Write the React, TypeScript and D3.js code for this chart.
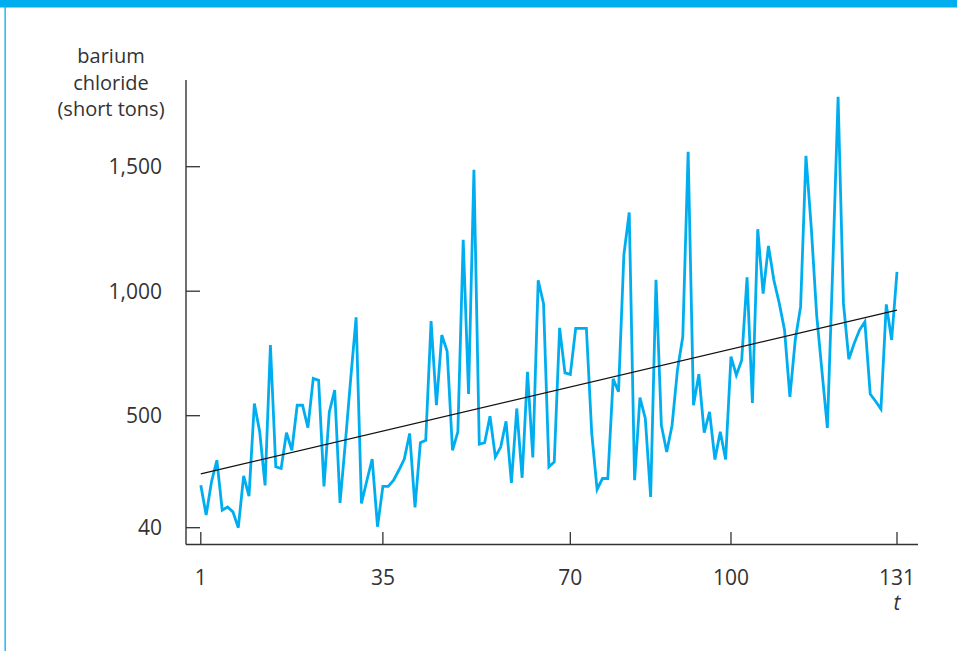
import React from "react";
import * as d3 from "d3";

const values: number[] = [
  214, 92, 229, 317, 112, 125, 105, 40, 253, 170,
  549, 434, 214, 784, 290, 283, 430, 358, 542, 542,
  451, 650, 642, 210, 515, 603, 142, 391, 651, 895,
  140, 233, 322, 44, 210, 210, 235, 277, 322, 427,
  123, 389, 399, 880, 542, 824, 759, 358, 434, 1206,
  587, 1488, 383, 389, 498, 331, 371, 477, 224, 529,
  245, 676, 329, 1044, 950, 290, 310, 853, 672, 666,
  851, 851, 851, 427, 197, 242, 242, 648, 596, 1146,
  1316, 235, 573, 489, 166, 1046, 461, 351, 461, 683,
  817, 1560, 542, 667, 430, 515, 320, 434, 320, 737,
  663, 723, 1056, 551, 1249, 990, 1182, 1045, 953, 844,
  576, 804, 938, 1544, 1253, 904, 676, 450, 1096, 1781,
  951, 727, 790, 844, 877, 587, 558, 527, 947, 804,
  1078,
];
const tValues: number[] = values.map((_, i) => i + 1);
const trendT: number[] = [1, 131];
const trendValues: number[] = [261, 924];
const yTicks: number[] = [40, 500, 1000, 1500];
const yTickLabels: string[] = ["40", "500", "1,000", "1,500"];
const xTicks: number[] = [1, 35, 70, 100, 131];
const yTitle: string[] = ["barium", "chloride", "(short tons)"];
const xTitle = "t";

const BLUE = "#00AEEF";
const INK = "#333333";
const FONT = "'Open Sans', 'Noto Sans', sans-serif";

export default function App() {
  const W = 957;
  const H = 651;
  const axisX = 186;
  const axisY = 544.5;
  const axisTop = 80;
  const axisRight = 918;

  const x = d3.scaleLinear().domain([1, 131]).range([200.8, 897]);
  const y = d3.scaleLinear().domain([40, 500, 1500]).range([527.7, 415.7, 166.7]);

  const line = d3
    .line<number>()
    .x((_, i) => x(tValues[i]))
    .y((d) => y(d));

  const trend = d3
    .line<number>()
    .x((_, i) => x(trendT[i]))
    .y((d) => y(d));

  return (
    <svg
      width={W}
      height={H}
      style={{ position: "absolute", left: 0, top: 0, background: "#fff" }}
      fontFamily={FONT}
    >
      <rect x={0} y={0} width={W} height={7.5} fill={BLUE} />
      <rect x={4.5} y={0} width={1.3} height={H} fill={BLUE} />

      {/* y title */}
      {yTitle.map((s, i) => (
        <text
          key={s}
          x={111}
          y={63 + i * 26.5}
          textAnchor="middle"
          fontSize={20}
          fill={INK}
        >
          {s}
        </text>
      ))}

      {/* axes */}
      <line x1={axisX} y1={axisTop} x2={axisX} y2={axisY} stroke={INK} strokeWidth={1.4} />
      <line x1={axisX} y1={axisY} x2={axisRight} y2={axisY} stroke={INK} strokeWidth={1.4} />

      {yTicks.map((v, i) => (
        <g key={v}>
          <line x1={axisX} x2={axisX + 14} y1={y(v)} y2={y(v)} stroke={INK} strokeWidth={1.3} />
          <text
            x={162}
            y={y(v)}
            dy="0.35em"
            textAnchor="end"
            fontSize={21}
            fill={INK}
          >
            {yTickLabels[i]}
          </text>
        </g>
      ))}

      {xTicks.map((v) => (
        <g key={v}>
          <line x1={x(v)} x2={x(v)} y1={axisY} y2={axisY - 12.5} stroke={INK} strokeWidth={1.3} />
          <text x={x(v)} y={578} dy="0.35em" textAnchor="middle" fontSize={21} fill={INK}>
            {v}
          </text>
        </g>
      ))}
      <text
        x={x(131)}
        y={603}
        dy="0.35em"
        textAnchor="middle"
        fontSize={21}
        fontStyle="italic"
        fill={INK}
      >
        {xTitle}
      </text>

      <path d={line(values) || ""} fill="none" stroke={BLUE} strokeWidth={2.8} strokeLinejoin="miter" strokeMiterlimit={4} />
      <path d={trend(trendValues) || ""} fill="none" stroke="#111" strokeWidth={1.3} />
    </svg>
  );
}
